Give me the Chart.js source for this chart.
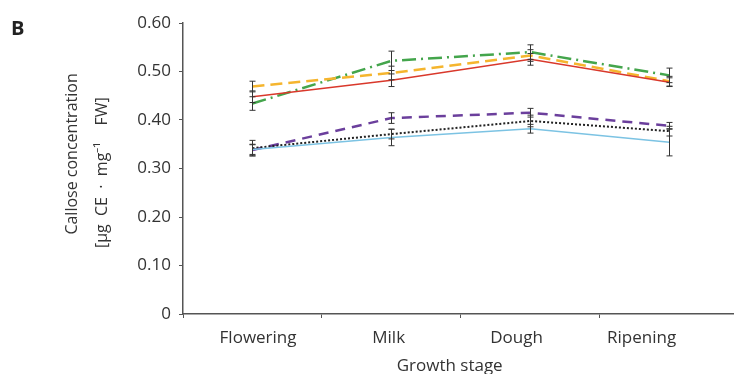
<!DOCTYPE html>
<html>
<head>
<meta charset="utf-8">
<script src="https://cdn.jsdelivr.net/npm/chart.js@4"></script>
<style>
  html, body { margin: 0; padding: 0; background: #fff; overflow: hidden; }
  #wrap { position: relative; width: 734px; height: 374px; }
  #panel { position: absolute; left: 11px; top: 14px; font: bold 20px "Open Sans", sans-serif; color: #222; }
</style>
</head>
<body>
<div id="wrap">
  <canvas id="canvas" width="734" height="374"></canvas>
  <div id="panel">B</div>
</div>
<script>
// growth stages along the x axis
let stages = ['Flowering', 'Milk', 'Dough', 'Ripening'];
// where each stage name sits on the axis (category units, as in the figure)
let stageLabelAt = [0.04, 0.98, 1.9, 2.8];
// category borders that get a tick mark
let stageBorders = [-0.5, 0.5, 1.5, 2.5];
// y axis ticks
let yTicks = [0, 0.1, 0.2, 0.3, 0.4, 0.5, 0.6];

// series means and error
let yellowMean = [0.469, 0.497, 0.533, 0.480];
let yellowErr  = [0.011, 0.014, 0.012, 0.010];
let redMean    = [0.448, 0.482, 0.525, 0.478];
let redErr     = [0.012, 0.013, 0.012, 0.009];
let greenMean  = [0.434, 0.522, 0.540, 0.492];
let greenErr   = [0.014, 0.020, 0.015, 0.015];
let purpleMean = [0.338, 0.404, 0.415, 0.388];
let purpleErr  = [0.012, 0.011, 0.009, 0.007];
let blackMean  = [0.342, 0.371, 0.398, 0.377];
let blackErr   = [0.016, 0.010, 0.012, 0.010];
let blueMean   = [0.339, 0.364, 0.382, 0.354];
let blueErr    = [0.010, 0.017, 0.009, 0.028];

// turn a list of means into {x, y} points
function points(means) {
  return means.map((v, i) => ({ x: i, y: v }));
}

// draws the vertical error bars with caps
const errorBars = {
  id: 'errorBars',
  afterDatasetsDraw(chart) {
    const ctx = chart.ctx;
    const xs = chart.scales.x, ys = chart.scales.y;
    ctx.save();
    ctx.strokeStyle = '#333';
    ctx.lineWidth = 1;
    chart.data.datasets.forEach(ds => {
      ds.data.forEach((p, i) => {
        const e = ds.errors[i];
        const px = Math.round(xs.getPixelForValue(p.x)) + 0.5;
        const top = ys.getPixelForValue(p.y + e);
        const bot = ys.getPixelForValue(p.y - e);
        ctx.beginPath();
        ctx.moveTo(px, top); ctx.lineTo(px, bot);
        ctx.moveTo(px - 3, top); ctx.lineTo(px + 3, top);
        ctx.moveTo(px - 3, bot); ctx.lineTo(px + 3, bot);
        ctx.stroke();
      });
    });
    ctx.restore();
  }
};

const font = { family: '"Open Sans", sans-serif', size: 17 };
const axisColor = '#555';

const config = {
  type: 'line',
  data: {
    datasets: [
      { data: points(blueMean), errors: blueErr, borderColor: '#7cc3e3', borderWidth: 1.5 },
      { data: points(blackMean), errors: blackErr, borderColor: '#222', borderWidth: 2, borderDash: [2, 2] },
      { data: points(purpleMean), errors: purpleErr, borderColor: '#6b3f9c', borderWidth: 2.5, borderDash: [10, 7] },
      { data: points(redMean), errors: redErr, borderColor: '#d9382b', borderWidth: 1.5 },
      { data: points(yellowMean), errors: yellowErr, borderColor: '#f5b52e', borderWidth: 2.5, borderDash: [12, 6] },
      { data: points(greenMean), errors: greenErr, borderColor: '#44a54c', borderWidth: 2.5, borderDash: [14, 5, 2, 5] }
    ]
  },
  options: {
    responsive: false,
    animation: false,
    layout: { padding: { top: 23, left: 0, right: 0, bottom: 0 } },
    elements: { point: { radius: 0 }, line: { tension: 0 } },
    plugins: { legend: { display: false }, tooltip: { enabled: false } },
    scales: {
      x: {
        type: 'linear',
        min: -0.5,
        max: 3.465,
        afterBuildTicks: s => {
          s.ticks = stageBorders.concat(stageLabelAt).sort((a, b) => a - b).map(v => ({ value: v }));
        },
        afterFit: s => { s.height = 60; },
        ticks: {
          autoSkip: false,
          maxRotation: 0,
          padding: 10,
          color: '#333',
          font: font,
          callback: v => {
            let i = stageLabelAt.indexOf(v);
            return i >= 0 ? stages[i] : '';
          }
        },
        grid: {
          drawOnChartArea: false,
          tickLength: 4,
          tickColor: c => (c.tick && stageLabelAt.indexOf(c.tick.value) >= 0) ? 'rgba(0,0,0,0)' : axisColor
        },
        border: { color: axisColor, width: 1.5 },
        title: {
          display: true,
          text: 'Growth stage    ',
          color: '#333',
          font: { family: font.family, size: 17, lineHeight: 1.2 },
          padding: { top: 0, bottom: -2 }
        }
      },
      y: {
        min: 0,
        max: 0.6,
        afterBuildTicks: s => { s.ticks = yTicks.map(v => ({ value: v })); },
        afterFit: s => { s.width = 183; },
        ticks: {
          padding: 8,
          color: '#333',
          font: font,
          callback: v => v === 0 ? '0' : v.toFixed(2)
        },
        grid: { drawOnChartArea: false, tickLength: 4, tickColor: axisColor },
        border: { color: axisColor, width: 1.5 },
        title: {
          display: true,
          text: ['       Callose concentration', '[\u00b5g  CE  \u00b7  mg\u207b\u00b9    FW]  '],
          color: '#333',
          font: { family: font.family, size: 16, lineHeight: 1.9 },
          padding: { top: 57, bottom: 0 }
        }
      }
    }
  },
  plugins: [errorBars]
};

new Chart(document.getElementById('canvas'), config);
</script>
</body>
</html>
